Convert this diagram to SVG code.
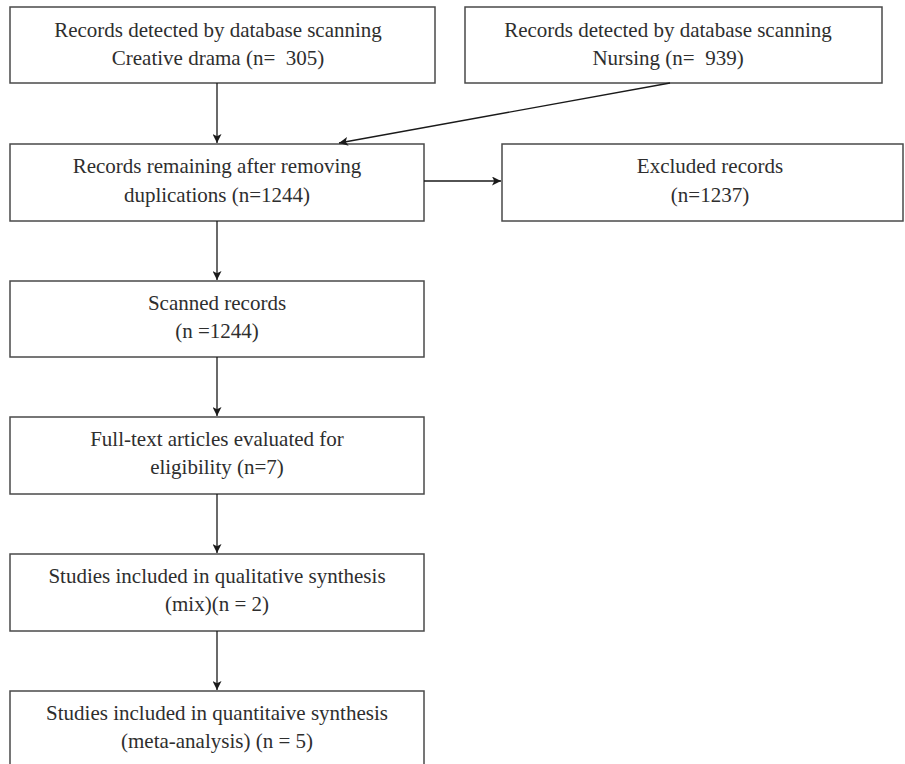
<svg xmlns="http://www.w3.org/2000/svg" width="905" height="764" viewBox="0 0 905 764">
<style>
.box{fill:#fff;stroke:#4a4a4a;stroke-width:1.5}
.t{font-family:"Liberation Serif","Times New Roman",serif;font-size:21px;fill:#2e2e2e;text-anchor:middle;white-space:pre}
.c{stroke:#1a1a1a;stroke-width:1.3;fill:none;marker-end:url(#ah)}
</style>
<defs>
<marker id="ah" viewBox="0 0 10 10" refX="10" refY="5" markerWidth="9" markerHeight="9" markerUnits="userSpaceOnUse" orient="auto">
<path d="M0,0 L10,5 L0,10 L2.5,5 z" fill="#1a1a1a"/>
</marker>
</defs>
<rect width="905" height="764" fill="#fff"/>
<g id="n1"><rect class="box" x="10" y="7" width="425" height="76"/>
<text class="t" x="218" y="37">Records detected by database scanning</text>
<text class="t" x="218" y="65" xml:space="preserve">Creative drama (n=  305)</text></g>
<g id="n2"><rect class="box" x="465" y="7" width="417" height="76"/>
<text class="t" x="668" y="37">Records detected by database scanning</text>
<text class="t" x="668" y="65" xml:space="preserve">Nursing (n=  939)</text></g>
<g id="n3"><rect class="box" x="10" y="144" width="414" height="77"/>
<text class="t" x="217" y="173">Records remaining after removing</text>
<text class="t" x="217" y="202">duplications (n=1244)</text></g>
<g id="n4"><rect class="box" x="502" y="144" width="401" height="77"/>
<text class="t" x="710" y="173">Excluded records</text>
<text class="t" x="710" y="202">(n=1237)</text></g>
<g id="n5"><rect class="box" x="10" y="281" width="414" height="76"/>
<text class="t" x="217" y="310">Scanned records</text>
<text class="t" x="217" y="338">(n =1244)</text></g>
<g id="n6"><rect class="box" x="10" y="417" width="414" height="77"/>
<text class="t" x="217" y="446">Full-text articles evaluated for</text>
<text class="t" x="217" y="474">eligibility (n=7)</text></g>
<g id="n7"><rect class="box" x="10" y="554" width="414" height="77"/>
<text class="t" x="217" y="583">Studies included in qualitative synthesis</text>
<text class="t" x="217" y="611">(mix)(n = 2)</text></g>
<g id="n8"><rect class="box" x="10" y="691" width="414" height="90"/>
<text class="t" x="217" y="720">Studies included in quantitaive synthesis</text>
<text class="t" x="217" y="748">(meta-analysis) (n = 5)</text></g>
<g id="connectors">
<line class="c" x1="217" y1="83" x2="217" y2="143"/>
<line class="c" x1="670" y1="83" x2="339" y2="143"/>
<line class="c" x1="424" y1="181" x2="501" y2="181"/>
<line class="c" x1="217" y1="221" x2="217" y2="280"/>
<line class="c" x1="217" y1="357" x2="217" y2="416"/>
<line class="c" x1="217" y1="494" x2="217" y2="553"/>
<line class="c" x1="217" y1="631" x2="217" y2="690"/>
</g>
</svg>
